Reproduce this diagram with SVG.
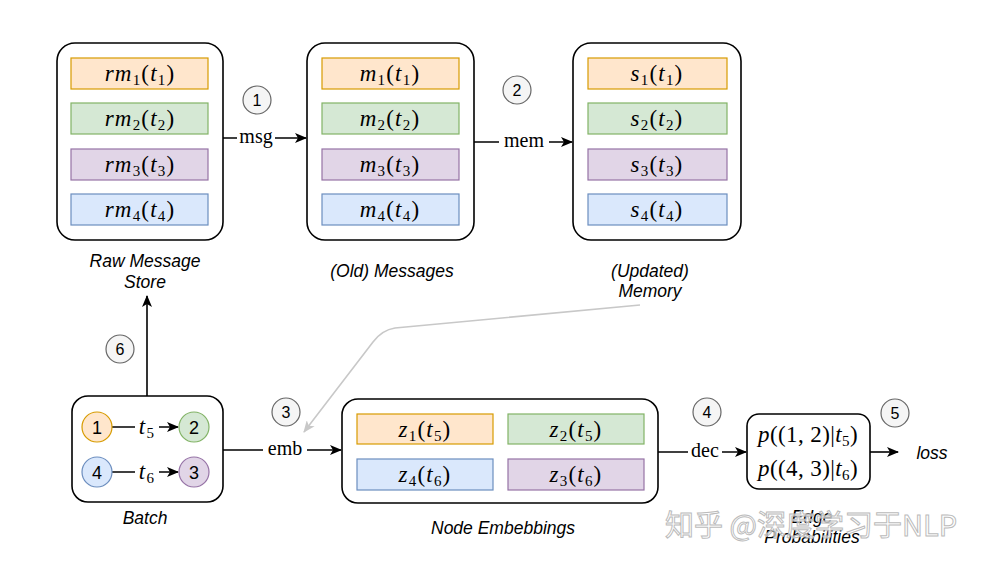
<svg xmlns="http://www.w3.org/2000/svg" width="988" height="565" viewBox="0 0 988 565">
<defs>
<marker id="ah" markerWidth="12" markerHeight="10" refX="11" refY="5" orient="auto" markerUnits="userSpaceOnUse">
<path d="M0,0 L12,5 L0,10 L3,5 z" fill="#000"/>
</marker>
<marker id="ahg" markerWidth="12" markerHeight="10" refX="11" refY="5" orient="auto" markerUnits="userSpaceOnUse">
<path d="M0,0 L12,5 L0,10 L3,5 z" fill="#c8c8c8"/>
</marker>
<style>
.box{fill:#fff;stroke:#000;stroke-width:1.6}
.o{fill:#ffe6cc;stroke:#d79b00;stroke-width:1.2}
.g{fill:#d5e8d4;stroke:#82b366;stroke-width:1.2}
.p{fill:#e1d5e7;stroke:#9673a6;stroke-width:1.2}
.b{fill:#dae8fc;stroke:#6c8ebf;stroke-width:1.2}
.m{font-family:"Liberation Serif",serif;font-size:23px;text-anchor:middle;fill:#000;letter-spacing:1.2px}
.i{font-style:italic}
.s{font-size:15px}
.lbl{font-family:"Liberation Sans",Arial,sans-serif;font-style:italic;font-size:17.5px;text-anchor:middle;fill:#000}
.num{fill:#f5f5f5;stroke:#666;stroke-width:1.2}
.nt{font-family:"Liberation Sans",Arial,sans-serif;font-size:16px;text-anchor:middle;fill:#000}
.bn{font-family:"Liberation Sans",Arial,sans-serif;font-size:18px;text-anchor:middle;fill:#000}
.ln{stroke:#000;stroke-width:1.6;fill:none}
.el{font-family:"Liberation Serif",serif;font-size:20px;text-anchor:middle;fill:#000}
.wm{font-family:"Noto Sans CJK SC","Liberation Sans",sans-serif;font-size:29px;fill:#fff;fill-opacity:0.6;stroke:#bbb;stroke-width:1}
</style>
</defs>

<g id="connectors">
<line class="ln" x1="223" y1="138" x2="306" y2="138" marker-end="url(#ah)"/>
<rect x="237" y="126" width="38" height="20" fill="#fff"/>
<text class="el" x="256" y="143">msg</text>
<line class="ln" x1="474" y1="142" x2="572" y2="142" marker-end="url(#ah)"/>
<rect x="499" y="130" width="50" height="20" fill="#fff"/>
<text class="el" x="524" y="147">mem</text>
<line class="ln" x1="147" y1="396" x2="147" y2="296" marker-end="url(#ah)"/>
<line class="ln" x1="223" y1="450" x2="341" y2="450" marker-end="url(#ah)"/>
<rect x="263" y="438" width="44" height="20" fill="#fff"/>
<text class="el" x="285" y="455">emb</text>
<line class="ln" x1="658" y1="452" x2="746" y2="452" marker-end="url(#ah)"/>
<rect x="688" y="440" width="34" height="20" fill="#fff"/>
<text class="el" x="705" y="457">dec</text>
<line class="ln" x1="870" y1="452" x2="898" y2="452" marker-end="url(#ah)"/>
<path d="M640,305 L395,328 Q382,330 373,342 L304,432" fill="none" stroke="#c8c8c8" stroke-width="1.6" marker-end="url(#ahg)"/>
</g>

<g id="raw-message-store">
<rect class="box" x="57" y="43" width="166" height="197" rx="18"/>
<rect class="o" x="71" y="58" width="137" height="31"/>
<rect class="g" x="71" y="103" width="137" height="31"/>
<rect class="p" x="71" y="149" width="137" height="31"/>
<rect class="b" x="71" y="194" width="137" height="31"/>
<text class="m" x="140" y="81"><tspan class="i">rm</tspan><tspan class="s" dy="4">1</tspan><tspan dy="-4">(</tspan><tspan class="i">t</tspan><tspan class="s" dy="4">1</tspan><tspan dy="-4">)</tspan></text>
<text class="m" x="140" y="126"><tspan class="i">rm</tspan><tspan class="s" dy="4">2</tspan><tspan dy="-4">(</tspan><tspan class="i">t</tspan><tspan class="s" dy="4">2</tspan><tspan dy="-4">)</tspan></text>
<text class="m" x="140" y="172"><tspan class="i">rm</tspan><tspan class="s" dy="4">3</tspan><tspan dy="-4">(</tspan><tspan class="i">t</tspan><tspan class="s" dy="4">3</tspan><tspan dy="-4">)</tspan></text>
<text class="m" x="140" y="217"><tspan class="i">rm</tspan><tspan class="s" dy="4">4</tspan><tspan dy="-4">(</tspan><tspan class="i">t</tspan><tspan class="s" dy="4">4</tspan><tspan dy="-4">)</tspan></text>
<text class="lbl" x="145" y="267">Raw Message</text>
<text class="lbl" x="145" y="288">Store</text>
</g>

<g id="old-messages">
<rect class="box" x="307" y="43" width="167" height="197" rx="18"/>
<rect class="o" x="322" y="58" width="137" height="31"/>
<rect class="g" x="322" y="103" width="137" height="31"/>
<rect class="p" x="322" y="149" width="137" height="31"/>
<rect class="b" x="322" y="194" width="137" height="31"/>
<text class="m" x="390" y="81"><tspan class="i">m</tspan><tspan class="s" dy="4">1</tspan><tspan dy="-4">(</tspan><tspan class="i">t</tspan><tspan class="s" dy="4">1</tspan><tspan dy="-4">)</tspan></text>
<text class="m" x="390" y="126"><tspan class="i">m</tspan><tspan class="s" dy="4">2</tspan><tspan dy="-4">(</tspan><tspan class="i">t</tspan><tspan class="s" dy="4">2</tspan><tspan dy="-4">)</tspan></text>
<text class="m" x="390" y="172"><tspan class="i">m</tspan><tspan class="s" dy="4">3</tspan><tspan dy="-4">(</tspan><tspan class="i">t</tspan><tspan class="s" dy="4">3</tspan><tspan dy="-4">)</tspan></text>
<text class="m" x="390" y="217"><tspan class="i">m</tspan><tspan class="s" dy="4">4</tspan><tspan dy="-4">(</tspan><tspan class="i">t</tspan><tspan class="s" dy="4">4</tspan><tspan dy="-4">)</tspan></text>
<text class="lbl" x="392" y="277">(Old) Messages</text>
</g>

<g id="updated-memory">
<rect class="box" x="573" y="43" width="168" height="197" rx="18"/>
<rect class="o" x="588" y="58" width="139" height="31"/>
<rect class="g" x="588" y="103" width="139" height="31"/>
<rect class="p" x="588" y="149" width="139" height="31"/>
<rect class="b" x="588" y="194" width="139" height="31"/>
<text class="m" x="657" y="81"><tspan class="i">s</tspan><tspan class="s" dy="4">1</tspan><tspan dy="-4">(</tspan><tspan class="i">t</tspan><tspan class="s" dy="4">1</tspan><tspan dy="-4">)</tspan></text>
<text class="m" x="657" y="126"><tspan class="i">s</tspan><tspan class="s" dy="4">2</tspan><tspan dy="-4">(</tspan><tspan class="i">t</tspan><tspan class="s" dy="4">2</tspan><tspan dy="-4">)</tspan></text>
<text class="m" x="657" y="172"><tspan class="i">s</tspan><tspan class="s" dy="4">3</tspan><tspan dy="-4">(</tspan><tspan class="i">t</tspan><tspan class="s" dy="4">3</tspan><tspan dy="-4">)</tspan></text>
<text class="m" x="657" y="217"><tspan class="i">s</tspan><tspan class="s" dy="4">4</tspan><tspan dy="-4">(</tspan><tspan class="i">t</tspan><tspan class="s" dy="4">4</tspan><tspan dy="-4">)</tspan></text>
<text class="lbl" x="650" y="277">(Updated)</text>
<text class="lbl" x="650" y="297">Memory</text>
</g>

<g id="batch">
<rect class="box" x="72" y="396" width="151" height="106" rx="16"/>
<line class="ln" x1="112" y1="427" x2="178" y2="427" marker-end="url(#ah)"/>
<rect x="135" y="416" width="24" height="20" fill="#fff"/>
<text class="m" x="147" y="434"><tspan class="i">t</tspan><tspan class="s" dy="4">5</tspan></text>
<line class="ln" x1="112" y1="472" x2="178" y2="472" marker-end="url(#ah)"/>
<rect x="135" y="461" width="24" height="20" fill="#fff"/>
<text class="m" x="147" y="479"><tspan class="i">t</tspan><tspan class="s" dy="4">6</tspan></text>
<circle class="o" cx="97" cy="427" r="15"/>
<text class="bn" x="97" y="433.5">1</text>
<circle class="g" cx="194" cy="427" r="15"/>
<text class="bn" x="194" y="433.5">2</text>
<circle class="b" cx="97" cy="472" r="15"/>
<text class="bn" x="97" y="478.5">4</text>
<circle class="p" cx="194" cy="472" r="15"/>
<text class="bn" x="194" y="478.5">3</text>
<text class="lbl" x="145" y="524">Batch</text>
</g>

<g id="node-embeddings">
<rect class="box" x="342" y="399" width="316" height="104" rx="16"/>
<rect class="o" x="357" y="414" width="136" height="30"/>
<rect class="g" x="508" y="414" width="136" height="30"/>
<rect class="b" x="357" y="459" width="136" height="31"/>
<rect class="p" x="508" y="459" width="136" height="31"/>
<text class="m" x="425" y="437"><tspan class="i">z</tspan><tspan class="s" dy="4">1</tspan><tspan dy="-4">(</tspan><tspan class="i">t</tspan><tspan class="s" dy="4">5</tspan><tspan dy="-4">)</tspan></text>
<text class="m" x="576" y="437"><tspan class="i">z</tspan><tspan class="s" dy="4">2</tspan><tspan dy="-4">(</tspan><tspan class="i">t</tspan><tspan class="s" dy="4">5</tspan><tspan dy="-4">)</tspan></text>
<text class="m" x="425" y="482"><tspan class="i">z</tspan><tspan class="s" dy="4">4</tspan><tspan dy="-4">(</tspan><tspan class="i">t</tspan><tspan class="s" dy="4">6</tspan><tspan dy="-4">)</tspan></text>
<text class="m" x="576" y="482"><tspan class="i">z</tspan><tspan class="s" dy="4">3</tspan><tspan dy="-4">(</tspan><tspan class="i">t</tspan><tspan class="s" dy="4">6</tspan><tspan dy="-4">)</tspan></text>
<text class="lbl" x="503" y="534">Node Embebbings</text>
</g>

<g id="edge-probabilities">
<rect class="box" x="747" y="414" width="123" height="75" rx="12"/>
<text class="m" x="808" y="442" style="letter-spacing:0.4px"><tspan class="i">p</tspan><tspan>((1, 2)|</tspan><tspan class="i">t</tspan><tspan class="s" dy="4">5</tspan><tspan dy="-4">)</tspan></text>
<text class="m" x="808" y="476" style="letter-spacing:0.4px"><tspan class="i">p</tspan><tspan>((4, 3)|</tspan><tspan class="i">t</tspan><tspan class="s" dy="4">6</tspan><tspan dy="-4">)</tspan></text>
<text class="lbl" x="812" y="523">Edge</text>
<text class="lbl" x="812" y="543">Probabilities</text>
</g>

<g id="loss">
<text class="lbl" x="932" y="459">loss</text>
</g>

<g id="step-markers">
<circle class="num" cx="257" cy="100" r="14"/><text class="nt" x="257" y="106">1</text>
<circle class="num" cx="517" cy="90" r="14"/><text class="nt" x="517" y="96">2</text>
<circle class="num" cx="286" cy="412" r="14"/><text class="nt" x="286" y="418">3</text>
<circle class="num" cx="707" cy="412" r="14"/><text class="nt" x="707" y="418">4</text>
<circle class="num" cx="895" cy="413" r="14"/><text class="nt" x="895" y="419">5</text>
<circle class="num" cx="120" cy="349" r="14"/><text class="nt" x="120" y="355">6</text>
</g>

<g id="watermark">
<text class="wm" x="665" y="536">知乎 @深度学习于NLP</text>
</g>
</svg>
